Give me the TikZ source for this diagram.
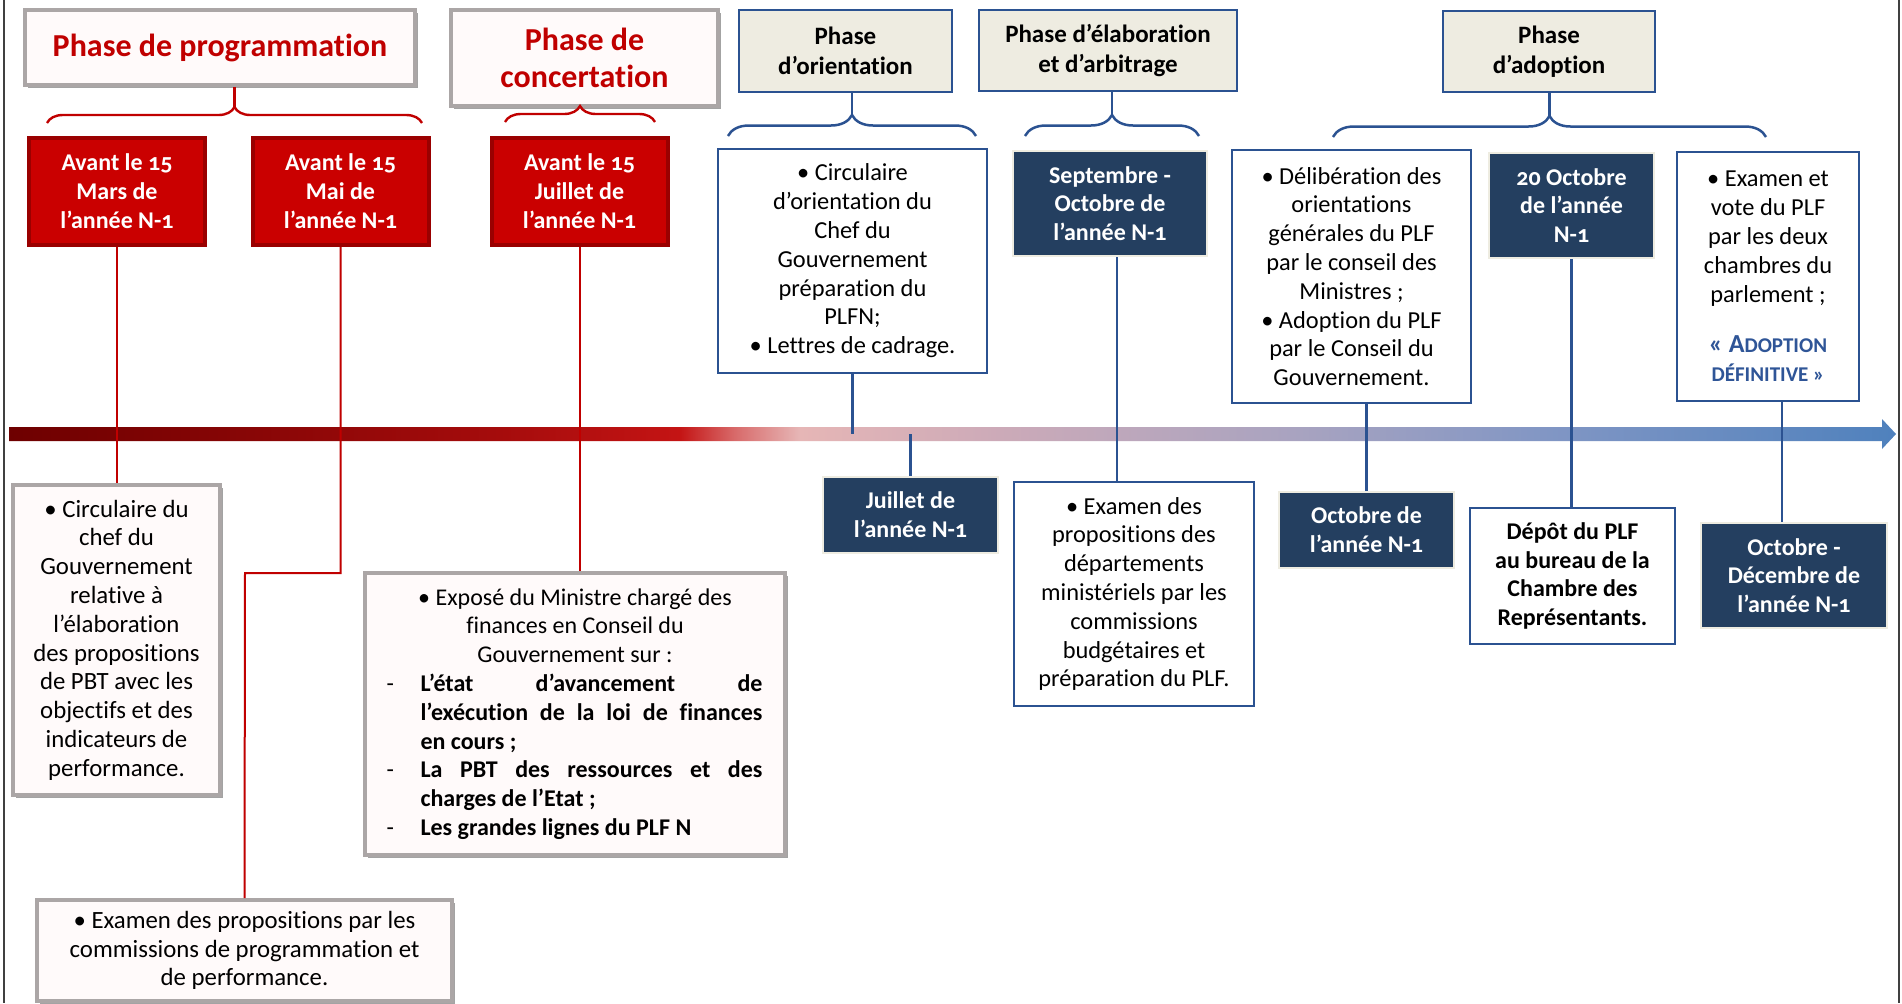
\documentclass[tikz,border=0pt]{standalone}
\usepackage{fontspec}
\setmainfont{Carlito}[Numbers=OldStyle, Ligatures=NoCommon, Contextuals=NoAlternate]
\usetikzlibrary{positioning,decorations.pathreplacing,shadows}

\definecolor{redTxt}{HTML}{C00000}
\definecolor{redFill}{HTML}{CA0000}
\definecolor{redEdge}{HTML}{9A0000}
\definecolor{greyEdge}{HTML}{ABA6A6}
\definecolor{greyFill}{HTML}{FFFAFA}
\definecolor{navy}{HTML}{243F60}
\definecolor{beige}{HTML}{EEECE1}
\definecolor{blueEdge}{HTML}{2B5291}
\definecolor{adoptBlue}{HTML}{2F5597}
\definecolor{tl0}{HTML}{6E0000}
\definecolor{tl1}{HTML}{880606}
\definecolor{tl2}{HTML}{A50C0C}
\definecolor{tl3}{HTML}{C41414}
\definecolor{tl4}{HTML}{D86A6A}
\definecolor{tl5}{HTML}{E6B6B6}
\definecolor{tl6}{HTML}{CCAAB8}
\definecolor{tl7}{HTML}{A8A3C0}
\definecolor{tl8}{HTML}{8196C4}
\definecolor{tl9}{HTML}{4F81BD}
\pgfdeclarehorizontalshading{tlShade}{100bp}{color(0bp)=(tl0); color(25bp)=(tl0); color(31.38bp)=(tl1); color(38bp)=(tl2); color(42.77bp)=(tl3); color(44.23bp)=(tl4); color(45.95bp)=(tl5); color(51.24bp)=(tl6); color(59.19bp)=(tl7); color(65.81bp)=(tl8); color(75bp)=(tl9); color(100bp)=(tl9)}

\tikzstyle{gH}=[draw=greyEdge, line width=2pt, fill=greyFill, drop shadow={shadow xshift=1.5pt, shadow yshift=-1.5pt, fill=black!60, opacity=.6}, text=redTxt, font=\bfseries\fontsize{16}{18.5}\selectfont, align=center, inner sep=0pt]
\tikzstyle{gB}=[draw=greyEdge, line width=2pt, fill=greyFill, drop shadow={shadow xshift=1.5pt, shadow yshift=-1.5pt, fill=black!60, opacity=.6}, font=\fontsize{12.4}{14.4}\selectfont, align=center, inner sep=0pt]
\tikzstyle{rB}=[draw=redEdge, line width=2pt, fill=redFill, drop shadow={shadow xshift=1pt, shadow yshift=-1pt, fill=black!50, opacity=.5}, text=white, font=\bfseries\fontsize{12}{14.5}\selectfont, align=center, minimum width=88pt, minimum height=53.5pt, inner sep=0pt]
\tikzstyle{bH}=[draw=blueEdge, line width=1.25pt, fill=beige, font=\bfseries\fontsize{12.5}{15}\selectfont, align=center, inner sep=0pt]
\tikzstyle{bB}=[draw=blueEdge, line width=1.25pt, fill=white, font=\fontsize{12.2}{14.4}\selectfont, align=center, inner sep=0pt]
\tikzstyle{dB}=[draw=beige, line width=1.2pt, fill=navy, text=white, font=\bfseries\fontsize{12}{14.4}\selectfont, align=center, inner sep=0pt]
\tikzstyle{rL}=[draw=redTxt, line width=1pt]
\tikzstyle{bL}=[draw=blueEdge, line width=1.25pt]
\tikzstyle{rBr}=[draw=redTxt, line width=1.2pt, decorate, decoration={brace, amplitude=8pt}]
\tikzstyle{bBr}=[draw=blueEdge, line width=1.25pt, decorate, decoration={brace, amplitude=10.5pt}]
\tikzstyle{frame}=[draw=black!75, line width=1pt]

\begin{document}
\begin{tikzpicture}[x=0.5pt, y=-0.5pt]
    \useasboundingbox (0,0) rectangle (1902,1003);
    \fill[white] (0,0) rectangle (1902,1003);
    \draw[frame] (4,0) -- (4,1003);
    \draw[frame] (1899,0) -- (1899,1003);

    \shade[shading=tlShade] (9,427) -- (1882,427) -- (1882,419) -- (1896,434) -- (1882,449) -- (1882,441) -- (9,441) -- cycle;
    \coordinate (barC) at (0,434);

    \draw (220,47.5) node[gH, minimum width=195pt, minimum height=37.5pt] (progH) {Phase de programmation};
    \draw (584.5,58) node[gH, minimum width=133.5pt, minimum height=48pt] (concH) {Phase de\\concertation};
    \draw (117,191.5) node[rB] (mars) {Avant le 15\\Mars de\\l’année N-1};
    \draw (340.5,191.5) node[rB] (mai) {Avant le 15\\Mai de\\l’année N-1};
    \draw (579.5,191.5) node[rB] (juil15) {Avant le 15\\Juillet de\\l’année N-1};
    \draw (116.5,640) node[gB, minimum width=103.5pt, minimum height=155pt] (circ) {\textbullet\ Circulaire du\\chef du\\Gouvernement\\relative à\\l’élaboration\\des propositions\\de PBT avec les\\objectifs et des\\indicateurs de\\performance.};
    \draw (575,714) node[gB, align=left, font=\fontsize{12}{14.4}\selectfont, minimum width=210pt, minimum height=141pt] (expo) {\makebox[188.5pt]{\textbullet\ Exposé du Ministre chargé des}\\
        \makebox[188.5pt]{finances en Conseil du}\\
        \makebox[188.5pt]{Gouvernement sur :}\\
        \makebox[17pt][l]{-}\makebox[171pt][s]{\bfseries L’état d’avancement de}\\
        \hspace*{17pt}\makebox[171pt][s]{\bfseries l’exécution de la loi de finances}\\
        \hspace*{17pt}\textbf{en cours ;}\\
        \makebox[17pt][l]{-}\makebox[171pt][s]{\bfseries La PBT des ressources et des}\\
        \hspace*{17pt}\textbf{charges de l’Etat ;}\\
        \makebox[17pt][l]{-}\textbf{Les grandes lignes du PLF N}};
    \draw (244.5,950.5) node[gB, minimum width=207.5pt, minimum height=50.5pt] (exam) {\textbullet\ Examen des propositions par les\\commissions de programmation et\\de performance.};

    \draw (845.5,51) node[bH, minimum width=106.5pt, minimum height=41pt] (oriH) {Phase\\d’orientation};
    \draw (1108,50.5) node[bH, minimum width=129pt, minimum height=40.5pt] (elabH) {Phase d’élaboration\\et d’arbitrage};
    \draw (1549,51.5) node[bH, minimum width=106pt, minimum height=40.5pt] (adopH) {Phase\\d’adoption};
    \draw (852.5,261) node[bB, minimum width=134.5pt, minimum height=112pt] (oriB) {\textbullet\ Circulaire\\d’orientation du\\Chef du\\Gouvernement\\préparation du\\PLFN;\\\textbullet\ Lettres de cadrage.};
    \draw (1110,203.5) node[dB, minimum width=97pt, minimum height=52.5pt] (sept) {Septembre -\\Octobre de\\l’année N-1};
    \draw (1351.5,276.5) node[bB, minimum width=119.5pt, minimum height=126.5pt] (delib) {\textbullet\ Délibération des\\orientations\\générales du PLF\\par le conseil des\\Ministres ;\\\textbullet\ Adoption du PLF\\par le Conseil du\\Gouvernement.};
    \draw (1571.5,205.5) node[dB, minimum width=82.5pt, minimum height=52.5pt] (oct20) {20 Octobre\\de l’année\\N-1};
    \draw (1768,276.5) node[bB, minimum width=91pt, minimum height=124.5pt] (vote) {\textbullet\ Examen et\\vote du PLF\\par les deux\\chambres du\\parlement ;\\[11pt]{\color{adoptBlue}\bfseries\fontsize{13}{14.4}\selectfont « A{\fontsize{10.5}{14.4}\selectfont DOPTION}}\\{\color{adoptBlue}\bfseries\fontsize{10.5}{15}\selectfont DÉFINITIVE »}};
    \draw (910.5,515) node[dB, minimum width=87.5pt, minimum height=38pt] (jul) {Juillet de\\l’année N-1};
    \draw (1134,594) node[bB, minimum width=120pt, minimum height=112pt] (prop) {\textbullet\ Examen des\\propositions des\\départements\\ministériels par les\\commissions\\budgétaires et\\préparation du PLF.};
    \draw (1366.5,530) node[dB, minimum width=87.5pt, minimum height=38pt] (oct) {Octobre de\\l’année N-1};
    \draw (1572.5,576) node[bB, minimum width=102.5pt, minimum height=68pt, font=\bfseries\fontsize{12}{14.2}\selectfont] (depot) {Dépôt du PLF\\au bureau de la\\Chambre des\\Représentants.};
    \draw (1794,575.5) node[dB, minimum width=93pt, minimum height=52.5pt] (octDec) {Octobre -\\Décembre de\\l’année N-1};

    \coordinate (progL) at (47,123); \coordinate (progR) at (422,123); \coordinate (progT) at (234.5,107);
    \coordinate (concL) at (505,122); \coordinate (concR) at (655,122); \coordinate (concT) at (580,107);
    \coordinate (oriL) at (728,136); \coordinate (oriR) at (976,136); \coordinate (oriT) at (852,115);
    \coordinate (elabL) at (1025,136); \coordinate (elabR) at (1199,136); \coordinate (elabT) at (1112,115);
    \coordinate (adopL) at (1333,137); \coordinate (adopR) at (1766,137); \coordinate (adopT) at (1549.5,117);
    \draw[rBr] (progL) -- (progR);
    \draw[rBr] (concL) -- (concR);
    \draw[bBr] (oriL) -- (oriR);
    \draw[bBr] (elabL) -- (elabR);
    \draw[bBr] (adopL) -- (adopR);

    \coordinate (maiBend) at (245,573);
    \coordinate (septX) at (1117,0);
    \coordinate (voteX) at (1782,0);
    \path
        (progH.south -| progT) edge[rL, line width=1.2pt] (progT)
        (concH.south -| concT) edge[rL, line width=1.2pt] (concT)
        (oriH.south -| oriT) edge[bL] (oriT)
        (elabH.south -| elabT) edge[bL] (elabT)
        (adopH.south -| adopT) edge[bL] (adopT)
        (mars.south) edge[rL] (mars.south |- circ.north)
        (juil15.south) edge[rL] (juil15.south |- expo.north)
        (oriB.south) edge[bL] (oriB.south |- barC)
        (jul.north) edge[bL] (jul.north |- barC)
        (sept.south -| septX) edge[bL] (prop.north -| septX)
        (delib.south -| oct.north) edge[bL] (oct.north)
        (oct20.south) edge[bL] (oct20.south |- depot.north)
        (vote.south -| voteX) edge[bL] (octDec.north -| voteX)
    ;
    \draw[rL] (mai.south) |- (maiBend) -- (exam.north);
\end{tikzpicture}
\end{document}
